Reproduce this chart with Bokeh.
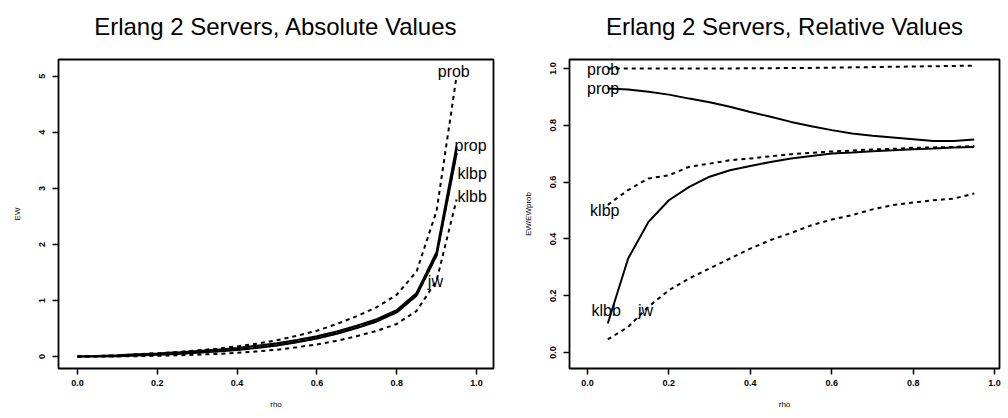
from bokeh.plotting import figure
from bokeh.layouts import row
from bokeh.models import FixedTicker, Range1d, NumeralTickFormatter, ColumnDataSource, LinearAxis
from bokeh.embed import file_html
from bokeh.resources import INLINE
from bokeh.core.properties import value

# ---------------- data ----------------
rho_abs = [0.00, 0.05, 0.10, 0.15, 0.20, 0.25, 0.30, 0.35, 0.40, 0.45,
           0.50, 0.55, 0.60, 0.65, 0.70, 0.75, 0.80, 0.85, 0.90, 0.95]
ew_prob = [0.000, 0.010, 0.020, 0.040, 0.060, 0.080, 0.110, 0.140, 0.180, 0.230,
           0.290, 0.370, 0.460, 0.580, 0.720, 0.880, 1.100, 1.520, 2.600, 5.000]
ew_prop = [0.000, 0.009, 0.019, 0.037, 0.054, 0.072, 0.097, 0.121, 0.152, 0.191,
           0.235, 0.295, 0.360, 0.447, 0.549, 0.666, 0.826, 1.132, 1.863, 3.750]
ew_klbp = [0.000, 0.005, 0.011, 0.025, 0.037, 0.052, 0.073, 0.095, 0.123, 0.159,
           0.202, 0.260, 0.326, 0.412, 0.515, 0.631, 0.793, 1.097, 1.810, 3.635]
ew_klbb = [0.000, 0.001, 0.007, 0.018, 0.032, 0.047, 0.068, 0.090, 0.118, 0.154,
           0.198, 0.256, 0.322, 0.408, 0.510, 0.627, 0.788, 1.091, 1.805, 3.620]
ew_jw = [0.000, 0.001, 0.002, 0.006, 0.013, 0.021, 0.033, 0.046, 0.066, 0.091,
         0.122, 0.166, 0.215, 0.281, 0.363, 0.457, 0.581, 0.815, 1.355, 2.800]

rho_rel = [0.05, 0.10, 0.15, 0.20, 0.25, 0.30, 0.35, 0.40, 0.45,
           0.50, 0.55, 0.60, 0.65, 0.70, 0.75, 0.80, 0.85, 0.90, 0.95]
rel_prob = [1.000, 1.000, 1.000, 1.000, 1.000, 1.000, 1.000, 1.001, 1.001,
            1.002, 1.002, 1.003, 1.004, 1.005, 1.006, 1.007, 1.008, 1.009, 1.010]
rel_prop = [0.930, 0.926, 0.918, 0.908, 0.894, 0.881, 0.865, 0.847, 0.830,
            0.812, 0.797, 0.783, 0.771, 0.763, 0.757, 0.751, 0.745, 0.745, 0.750]
rel_klbp = [0.520, 0.572, 0.613, 0.624, 0.654, 0.665, 0.677, 0.683, 0.691,
            0.698, 0.703, 0.708, 0.711, 0.715, 0.717, 0.721, 0.722, 0.724, 0.727]
rel_klbb = [0.102, 0.331, 0.460, 0.536, 0.583, 0.619, 0.642, 0.657, 0.671,
            0.683, 0.692, 0.701, 0.704, 0.709, 0.712, 0.716, 0.718, 0.722, 0.724]
rel_jw = [0.046, 0.090, 0.161, 0.219, 0.261, 0.296, 0.331, 0.366, 0.396,
          0.421, 0.448, 0.468, 0.484, 0.504, 0.519, 0.528, 0.536, 0.542, 0.560]

series_names = ["prob", "prop", "klbp", "klbb", "jw"]
series_dash = ["dashed", "solid", "dashed", "solid", "dashed"]

x_ticks = [0.0, 0.2, 0.4, 0.6, 0.8, 1.0]
y_ticks_abs = [0, 1, 2, 3, 4, 5]
y_ticks_rel = [0.0, 0.2, 0.4, 0.6, 0.8, 1.0]

title_abs = "Erlang 2 Servers, Absolute Values"
title_rel = "Erlang 2 Servers, Relative Values"

# curve labels: (text, x, y)
labels_abs = [("prob", 0.943, 5.08), ("prop", 0.985, 3.77), ("klbp", 0.989, 3.26),
              ("klbb", 0.989, 2.85), ("jw", 0.897, 1.33)]
labels_rel = [("prob", 0.0385, 0.995), ("prop", 0.0385, 0.928), ("klbp", 0.0426, 0.50),
              ("klbb", 0.046, 0.148), ("jw", 0.1425, 0.148)]

FONT = "Liberation Sans"


def style_axis(ax):
    ax.axis_line_color = None
    ax.major_tick_out = 6
    ax.major_tick_in = 0
    ax.major_tick_line_width = 1.5
    ax.minor_tick_line_color = None
    ax.major_label_text_font = FONT
    ax.major_label_text_font_size = "9px"
    ax.major_label_text_font_style = "bold"
    ax.major_label_text_color = "black"
    ax.axis_label_text_font = FONT
    ax.axis_label_text_font_size = "8px"
    ax.axis_label_text_font_style = "normal"
    ax.axis_label_text_color = "black"


def make_fig(title, xr, yr, yticks, yfmt, ylabel, border_left, frame_w, border_right):
    p = figure(width=border_left + frame_w + border_right, height=418,
               frame_width=frame_w, frame_height=309,
               min_border_left=border_left, min_border_right=border_right,
               min_border_top=59, min_border_bottom=50,
               x_range=Range1d(*xr), y_range=Range1d(*yr),
               x_axis_location=None, y_axis_location=None,
               output_backend="svg", toolbar_location=None, tools="")
    p.title.visible = False
    p.grid.visible = False
    p.outline_line_color = "black"
    p.outline_line_width = 1.8
    p.background_fill_color = "white"
    p.border_fill_color = "white"

    xax = LinearAxis(ticker=FixedTicker(ticks=x_ticks),
                     formatter=NumeralTickFormatter(format="0.0"), axis_label="rho")
    style_axis(xax)
    xax.major_label_standoff = 5
    xax.axis_label_standoff = 11
    p.add_layout(xax, "below")

    yax = LinearAxis(ticker=FixedTicker(ticks=yticks),
                     formatter=NumeralTickFormatter(format=yfmt), axis_label=ylabel,
                     major_label_orientation="vertical")
    style_axis(yax)
    yax.major_label_standoff = 7
    yax.axis_label_standoff = 15
    p.add_layout(yax, "left")

    # title drawn as the label of a tick-less axis above the frame
    tax = LinearAxis(ticker=FixedTicker(ticks=[]), axis_label=title,
                     axis_line_color=None, major_tick_line_color=None,
                     minor_tick_line_color=None,
                     axis_label_text_font=FONT, axis_label_text_font_size="24px",
                     axis_label_text_font_style="normal", axis_label_text_color="black",
                     axis_label_standoff=20, major_label_standoff=0)
    p.add_layout(tax, "above")
    return p


p1 = make_fig(title_abs, (-0.0476, 1.0426), (-0.214, 5.30),
              y_ticks_abs, "0", "EW", 58, 435, 11)
p2 = make_fig(title_rel, (-0.044, 1.012), (-0.0563, 1.0317),
              y_ticks_rel, "0.0", "EW/EWprob", 65, 430, 9)

abs_series = [ew_prob, ew_prop, ew_klbp, ew_klbb, ew_jw]
rel_series = [rel_prob, rel_prop, rel_klbp, rel_klbb, rel_jw]

for ys, dash in zip(abs_series, series_dash):
    if dash == "solid":
        p1.line(rho_abs, ys, line_color="black", line_width=2.2)
    else:
        p1.line(rho_abs, ys, line_color="black", line_width=2, line_dash="4 4")

for ys, dash in zip(rel_series, series_dash):
    if dash == "solid":
        p2.line(rho_rel, ys, line_color="black", line_width=2)
    else:
        p2.line(rho_rel, ys, line_color="black", line_width=2, line_dash="4 4")

for p, labs in ((p1, labels_abs), (p2, labels_rel)):
    src = ColumnDataSource(dict(t=[l[0] for l in labs], x=[l[1] for l in labs], y=[l[2] for l in labs]))
    p.text(x="x", y="y", text="t", source=src, text_font=value(FONT), text_font_size="16px",
           text_align="center", text_baseline="middle", text_color="black")

layout = row(p1, p2, spacing=0)
open("out.html", "w").write(file_html(layout, INLINE))
